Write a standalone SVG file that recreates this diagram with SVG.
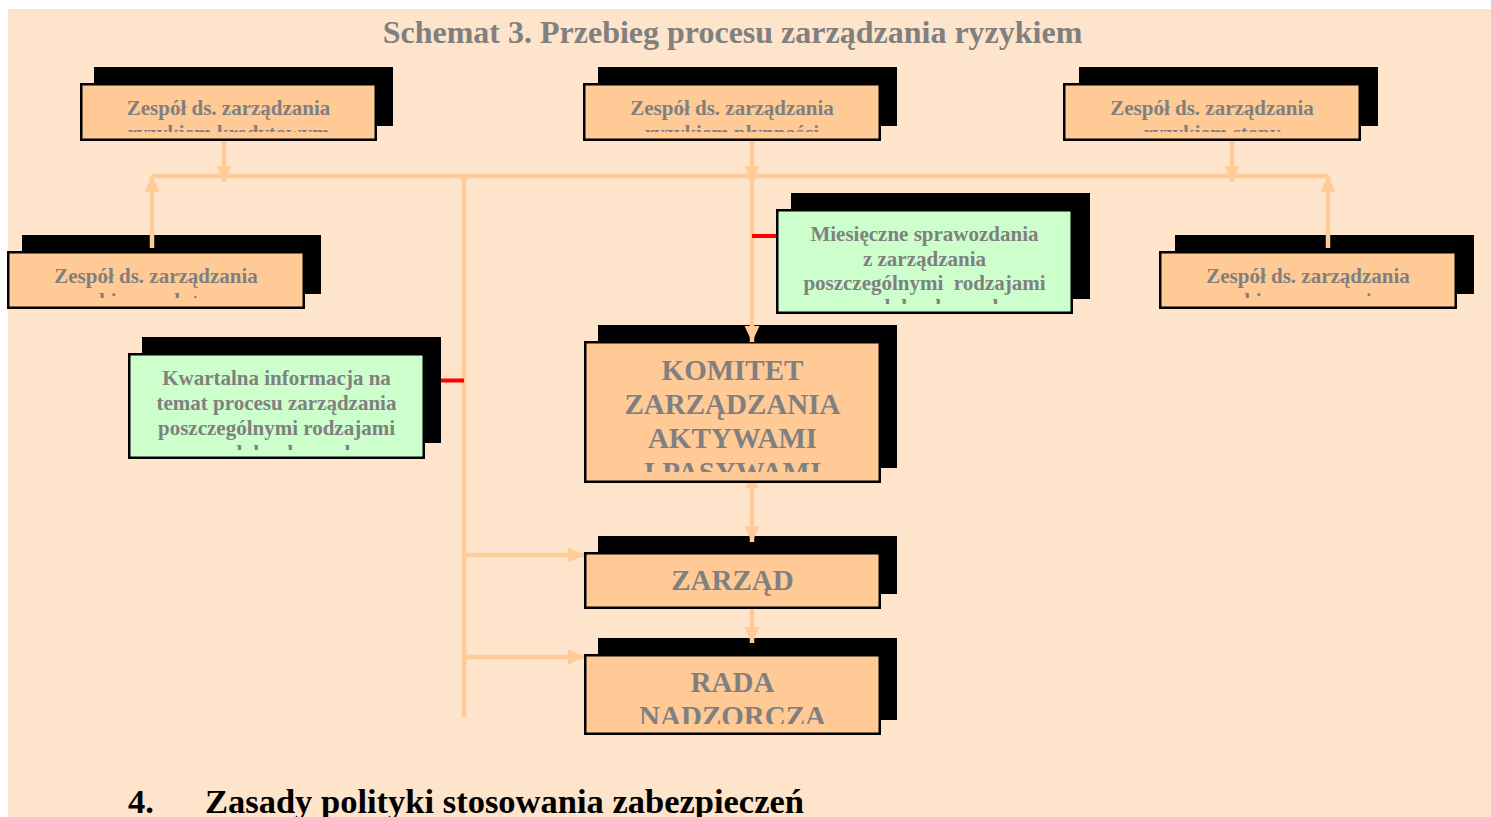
<svg xmlns="http://www.w3.org/2000/svg" width="1491" height="817" viewBox="0 0 1491 817">
<style>
.bg{fill:#FEE4CA}
.sh{fill:#000}
.fo{fill:#FFCA96;stroke:#000;stroke-width:2.5}
.fg{fill:#CCFFCC;stroke:#000;stroke-width:2.5}
.t{font-family:"Liberation Serif","Times New Roman",serif;font-weight:bold;fill:#808080;text-anchor:middle}
.s{font-size:21px}
.b{font-size:29px}
.c{fill:none;stroke:#FFCC99;stroke-width:4.5}
.r{fill:none;stroke:#FF0000;stroke-width:4}
.h{font-family:"Liberation Serif","Times New Roman",serif;font-weight:bold;fill:#000;font-size:34.5px}
</style>
<defs>
<marker id="arr" viewBox="0 0 16 16" refX="16" refY="8" markerWidth="16" markerHeight="16" orient="auto" markerUnits="userSpaceOnUse">
<path d="M0,0.5 L16,8 L0,15.5 z" fill="#FFCC99"/>
</marker>
<clipPath id="cz1"><rect x="80" y="83" width="297" height="49"/></clipPath>
<clipPath id="cz2"><rect x="583" y="83" width="298" height="49"/></clipPath>
<clipPath id="cz3"><rect x="1063" y="83" width="298" height="49"/></clipPath>
<clipPath id="cz4"><rect x="7" y="251" width="298" height="47"/></clipPath>
<clipPath id="cz5"><rect x="1159" y="251" width="298" height="47"/></clipPath>
<clipPath id="cg1"><rect x="128" y="353" width="297" height="97"/></clipPath>
<clipPath id="cg2"><rect x="776" y="209" width="297" height="95"/></clipPath>
<clipPath id="ck"><rect x="584" y="341" width="297" height="131"/></clipPath>
<clipPath id="cr"><rect x="584" y="654" width="297" height="70"/></clipPath>
</defs>

<rect class="bg" x="8" y="9" width="1483" height="808"/>

<text class="t" x="732.5" y="43" font-size="32">Schemat 3. Przebieg procesu zarządzania ryzykiem</text>

<g id="zespol-kredytowym">
<rect class="sh" x="94" y="67" width="299" height="59"/>
<rect class="fo" x="81.25" y="84.25" width="294.5" height="55.5"/>
<g clip-path="url(#cz1)"><text class="t s" x="228.5" y="115">Zespół ds. zarządzania</text><text class="t s" x="228.5" y="140">ryzykiem kredytowym</text></g>
</g>

<g id="zespol-plynnosci">
<rect class="sh" x="598" y="67" width="299" height="59"/>
<rect class="fo" x="584.25" y="84.25" width="295.5" height="55.5"/>
<g clip-path="url(#cz2)"><text class="t s" x="732" y="115">Zespół ds. zarządzania</text><text class="t s" x="732" y="140">ryzykiem płynności</text></g>
</g>

<g id="zespol-stopy">
<rect class="sh" x="1079" y="67" width="299" height="59"/>
<rect class="fo" x="1064.25" y="84.25" width="295.5" height="55.5"/>
<g clip-path="url(#cz3)"><text class="t s" x="1212" y="115">Zespół ds. zarządzania</text><text class="t s" x="1212" y="140">ryzykiem stopy</text></g>
</g>

<g id="zespol-walutowym">
<rect class="sh" x="22" y="235" width="299" height="59"/>
<rect class="fo" x="8.25" y="252.25" width="295.5" height="55.5"/>
<g clip-path="url(#cz4)"><text class="t s" x="156" y="283">Zespół ds. zarządzania</text><text class="t s" x="156" y="308">ryzykiem walutowym</text></g>
</g>

<g id="zespol-operacyjnym">
<rect class="sh" x="1175" y="235" width="299" height="59"/>
<rect class="fo" x="1160.25" y="252.25" width="295.5" height="55.5"/>
<g clip-path="url(#cz5)"><text class="t s" x="1308" y="283">Zespół ds. zarządzania</text><text class="t s" x="1308" y="308">ryzykiem operacyjnym</text></g>
</g>

<g id="kwartalna-informacja">
<rect class="sh" x="142" y="337" width="299" height="106"/>
<rect class="fg" x="129.25" y="354.25" width="294.5" height="103.5"/>
<g clip-path="url(#cg1)">
<text class="t s" x="276.5" y="385">Kwartalna informacja na</text>
<text class="t s" x="276.5" y="410">temat procesu zarządzania</text>
<text class="t s" x="276.5" y="435">poszczególnymi rodzajami</text>
<text class="t s" x="276.5" y="460">ryzyk bankowych</text>
</g>
</g>

<g id="miesieczne-sprawozdania">
<rect class="sh" x="791" y="193" width="299" height="106"/>
<rect class="fg" x="777.25" y="210.25" width="294.5" height="102.5"/>
<g clip-path="url(#cg2)">
<text class="t s" x="924.5" y="241">Miesięczne sprawozdania</text>
<text class="t s" x="924.5" y="265.5">z zarządzania</text>
<text class="t s" x="924.5" y="290" style="white-space:pre">poszczególnymi  rodzajami</text>
<text class="t s" x="924.5" y="314">ryzyk bankowych</text>
</g>
</g>

<g id="komitet">
<rect class="sh" x="598" y="325" width="299" height="143"/>
<rect class="fo" x="585.25" y="342.25" width="294.5" height="139.5"/>
<g clip-path="url(#ck)">
<text class="t b" x="732.5" y="380">KOMITET</text>
<text class="t b" x="732.5" y="414">ZARZĄDZANIA</text>
<text class="t b" x="732.5" y="448">AKTYWAMI</text>
<text class="t b" x="732.5" y="482">I PASYWAMI</text>
</g>
</g>

<g id="zarzad">
<rect class="sh" x="598" y="536" width="299" height="58"/>
<rect class="fo" x="585.25" y="553.25" width="294.5" height="54.5"/>
<text class="t b" x="732.5" y="590">ZARZĄD</text>
</g>

<g id="rada-nadzorcza">
<rect class="sh" x="598" y="638" width="299" height="82"/>
<rect class="fo" x="585.25" y="655.25" width="294.5" height="78.5"/>
<g clip-path="url(#cr)">
<text class="t b" x="732.5" y="692">RADA</text>
<text class="t b" x="732.5" y="726">NADZORCZA</text>
</g>
</g>

<g id="connectors">
<path class="c" d="M152,176 H1328"/>
<path class="c" d="M224,141 V182" marker-end="url(#arr)"/>
<path class="c" d="M752,141 V182" marker-end="url(#arr)"/>
<path class="c" d="M1232,141 V182" marker-end="url(#arr)"/>
<path class="c" d="M152,248 V176" marker-end="url(#arr)"/>
<path class="c" d="M1328,248 V176" marker-end="url(#arr)"/>
<path class="c" d="M752,176 V342" marker-end="url(#arr)"/>
<path class="c" d="M464,176 V717"/>
<path class="c" d="M464,555 H584" marker-end="url(#arr)"/>
<path class="c" d="M464,657 H584" marker-end="url(#arr)"/>
<path class="c" d="M752,484 V542" marker-end="url(#arr)"/>
<polygon points="745,488 759,488 756,483 748,483" fill="#FFCC99"/>
<path class="c" d="M752,609 V643" marker-end="url(#arr)"/>
<path class="r" d="M441,380.5 H464"/>
<path class="r" d="M752,236 H776"/>
</g>

<text class="h" x="128" y="813">4.</text>
<text class="h" x="205" y="813">Zasady polityki stosowania zabezpieczeń</text>
</svg>
